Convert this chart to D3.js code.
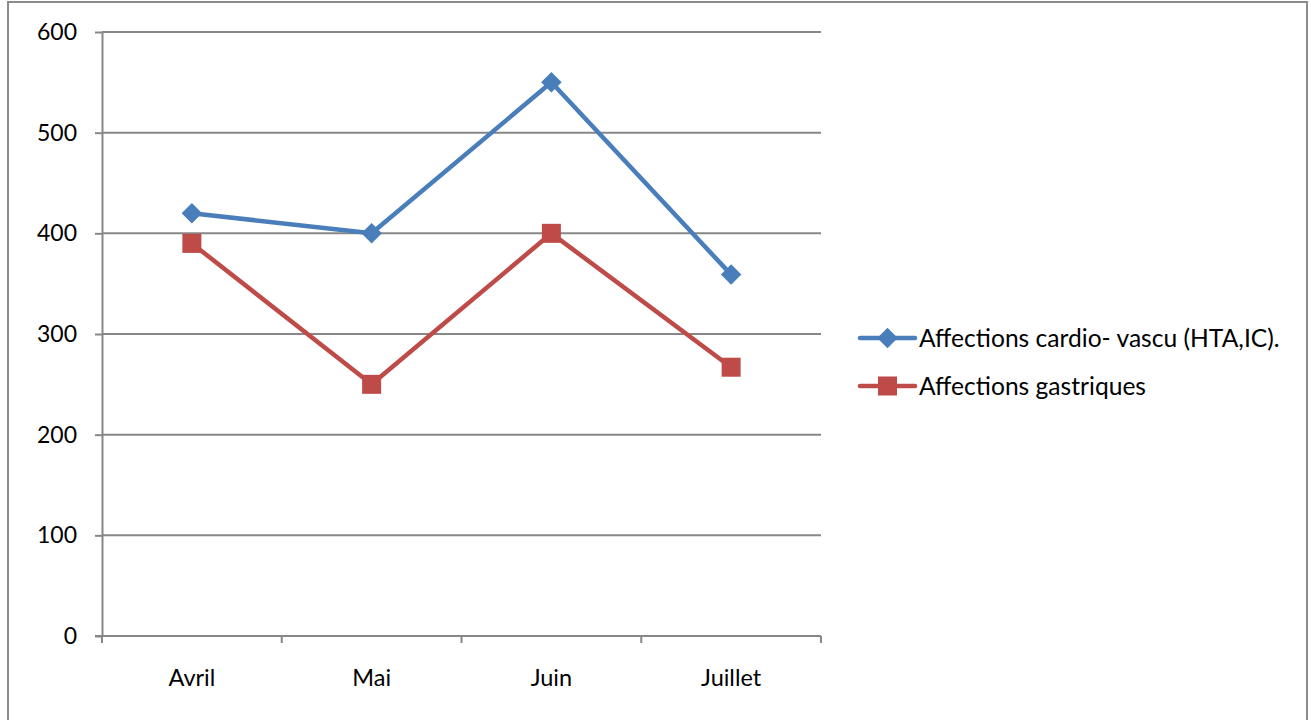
<!DOCTYPE html>
<html>
<head>
<meta charset="utf-8">
<script src="https://cdn.jsdelivr.net/npm/d3@7"></script>
<style>
  html, body { margin: 0; padding: 0; background: #fff; }
  svg { display: block; }
  text { font-family: Lato, "Open Sans", sans-serif; fill: #000; }
</style>
</head>
<body>
<svg id="chart" width="1311" height="720"></svg>
<script>
const categories = ["Avril", "Mai", "Juin", "Juillet"];
const seriesNames = ["Affections cardio- vascu (HTA,IC).", "Affections gastriques"];
const cardioValues = [420, 400, 550, 359];
const gastriqueValues = [390, 250, 400, 267];
const yTicks = [0, 100, 200, 300, 400, 500, 600];
const colors = ["#4A7EBB", "#BE4B48"];

const svg = d3.select("#chart");

// outer border
svg.append("rect").attr("x", 8).attr("y", 2).attr("width", 1299).attr("height", 730)
  .attr("fill", "#fff").attr("stroke", "#8c8c8c").attr("stroke-width", 2);

const x = d3.scaleBand().domain(categories).range([102, 821]).padding(0);
const y = d3.scaleLinear().domain([0, 600]).range([636, 32]);
const gray = "#878787";

// gridlines
svg.append("g").selectAll("line").data(yTicks.filter(d => d > 0)).join("line")
  .attr("x1", 102).attr("x2", 821)
  .attr("y1", d => y(d)).attr("y2", d => y(d))
  .attr("stroke", gray).attr("stroke-width", 2);

// y axis
const yAxis = svg.append("g").attr("transform", "translate(102,0)")
  .call(d3.axisLeft(y).tickValues(yTicks).tickSize(7).tickSizeOuter(0).tickPadding(18));
yAxis.select(".domain").attr("stroke", gray).attr("stroke-width", 2);
yAxis.selectAll(".tick line").attr("stroke", gray).attr("stroke-width", 2);
yAxis.selectAll(".tick text").attr("font-size", 23).attr("font-family", "Lato").attr("fill", "#000");

// x axis baseline + boundary ticks
svg.append("line").attr("x1", 95).attr("x2", 821).attr("y1", y(0)).attr("y2", y(0))
  .attr("stroke", gray).attr("stroke-width", 2);
const bounds = categories.map(c => x(c)).concat([x.range()[1]]);
svg.append("g").selectAll("line").data(bounds).join("line")
  .attr("x1", d => d).attr("x2", d => d).attr("y1", y(0)).attr("y2", y(0) + 7)
  .attr("stroke", gray).attr("stroke-width", 2);

// x labels
const xAxis = svg.append("g").attr("transform", `translate(0,${y(0)})`)
  .call(d3.axisBottom(x).tickSize(0).tickPadding(33));
xAxis.select(".domain").remove();
xAxis.selectAll(".tick text").attr("font-size", 23.5).attr("font-family", "Lato").attr("fill", "#000");

const cx = c => x(c) + x.bandwidth() / 2;
const line = d3.line().x((d, i) => cx(categories[i])).y(d => y(d));

function drawMarker(g, type, px, py, color) {
  if (type === 0) {
    g.append("path").attr("d", d3.symbol().type(d3.symbolSquare).size(210)())
      .attr("transform", `translate(${px},${py}) rotate(45)`).attr("fill", color);
  } else {
    g.append("rect").attr("x", px - 9.5).attr("y", py - 9.5).attr("width", 19).attr("height", 19)
      .attr("fill", color);
  }
}

[cardioValues, gastriqueValues].forEach((vals, si) => {
  svg.append("path").datum(vals).attr("d", line).attr("fill", "none")
    .attr("stroke", colors[si]).attr("stroke-width", 4.5).attr("stroke-linejoin", "round");
  const g = svg.append("g");
  vals.forEach((v, i) => drawMarker(g, si, cx(categories[i]), y(v), colors[si]));
});

// legend
const legY = [338, 386];
seriesNames.forEach((name, si) => {
  const g = svg.append("g");
  g.append("line").attr("x1", 860).attr("x2", 915).attr("y1", legY[si]).attr("y2", legY[si])
    .attr("stroke", colors[si]).attr("stroke-width", 4.5).attr("stroke-linecap", "round");
  drawMarker(g, si, 887.5, legY[si], colors[si]);
  g.append("text").attr("x", 919).attr("y", legY[si]).attr("dy", "0.35em")
    .attr("font-size", 24.6).text(name);
});
</script>
</body>
</html>
